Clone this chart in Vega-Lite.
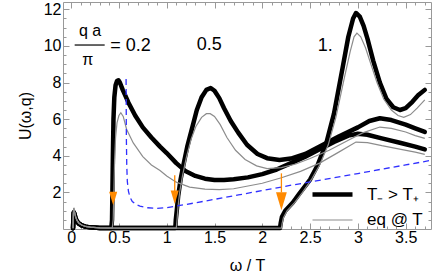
{
  "$schema": "https://vega.github.io/schema/vega-lite/v6.json",
  "width": 368,
  "height": 227,
  "autosize": {"type": "none"},
  "padding": {"left": 63, "top": 2, "right": 10, "bottom": 44},
  "config": {
    "view": {"stroke": "#999999", "strokeWidth": 1},
    "axis": {"grid": false, "domain": false, "tickColor": "#999999", "tickWidth": 1, "labelFont": "Liberation Sans", "labelFontSize": 16, "labelColor": "#000000", "titleFont": "Liberation Sans", "titleFontSize": 16, "titleFontWeight": "normal", "titleColor": "#000000"},
    "legend": {"labelFont": "Liberation Sans", "labelFontSize": 17, "labelColor": "#000000"}
  },
  "datasets": {
    "thick": [
      {"c":"A","k":"T₋ > T₊","x":0.02,"y":0.04},{"c":"A","k":"T₋ > T₊","x":0.024,"y":0.6},{"c":"A","k":"T₋ > T₊","x":0.028,"y":0.9},{"c":"A","k":"T₋ > T₊","x":0.035,"y":0.82},{"c":"A","k":"T₋ > T₊","x":0.045,"y":0.6},{"c":"A","k":"T₋ > T₊","x":0.06,"y":0.42},{"c":"A","k":"T₋ > T₊","x":0.08,"y":0.3},{"c":"A","k":"T₋ > T₊","x":0.11,"y":0.2},{"c":"A","k":"T₋ > T₊","x":0.15,"y":0.13},{"c":"A","k":"T₋ > T₊","x":0.2,"y":0.09},{"c":"A","k":"T₋ > T₊","x":0.3,"y":0.06},
      {"c":"A","k":"T₋ > T₊","x":0.42,"y":0.05},{"c":"A","k":"T₋ > T₊","x":0.428,"y":0.5},{"c":"A","k":"T₋ > T₊","x":0.432,"y":2},{"c":"A","k":"T₋ > T₊","x":0.437,"y":4},{"c":"A","k":"T₋ > T₊","x":0.443,"y":6},{"c":"A","k":"T₋ > T₊","x":0.452,"y":7.2},{"c":"A","k":"T₋ > T₊","x":0.465,"y":7.85},{"c":"A","k":"T₋ > T₊","x":0.48,"y":8.08},{"c":"A","k":"T₋ > T₊","x":0.495,"y":8.12},{"c":"A","k":"T₋ > T₊","x":0.51,"y":8.0},{"c":"A","k":"T₋ > T₊","x":0.54,"y":7.6},{"c":"A","k":"T₋ > T₊","x":0.6,"y":6.9},{"c":"A","k":"T₋ > T₊","x":0.67,"y":6.2},{"c":"A","k":"T₋ > T₊","x":0.75,"y":5.55},{"c":"A","k":"T₋ > T₊","x":0.84,"y":5.0},{"c":"A","k":"T₋ > T₊","x":0.93,"y":4.5},{"c":"A","k":"T₋ > T₊","x":1.0,"y":4.15},{"c":"A","k":"T₋ > T₊","x":1.1,"y":3.6},{"c":"A","k":"T₋ > T₊","x":1.2,"y":3.15},{"c":"A","k":"T₋ > T₊","x":1.3,"y":2.9},{"c":"A","k":"T₋ > T₊","x":1.4,"y":2.75},{"c":"A","k":"T₋ > T₊","x":1.5,"y":2.68},{"c":"A","k":"T₋ > T₊","x":1.6,"y":2.68},{"c":"A","k":"T₋ > T₊","x":1.7,"y":2.72},{"c":"A","k":"T₋ > T₊","x":1.85,"y":2.82},{"c":"A","k":"T₋ > T₊","x":2.0,"y":3.0},{"c":"A","k":"T₋ > T₊","x":2.15,"y":3.25},{"c":"A","k":"T₋ > T₊","x":2.3,"y":3.6},{"c":"A","k":"T₋ > T₊","x":2.45,"y":3.95},{"c":"A","k":"T₋ > T₊","x":2.6,"y":4.35},{"c":"A","k":"T₋ > T₊","x":2.75,"y":4.75},{"c":"A","k":"T₋ > T₊","x":2.9,"y":5.1},{"c":"A","k":"T₋ > T₊","x":3.0,"y":5.2},{"c":"A","k":"T₋ > T₊","x":3.1,"y":5.15},{"c":"A","k":"T₋ > T₊","x":3.25,"y":4.95},{"c":"A","k":"T₋ > T₊","x":3.45,"y":4.7},{"c":"A","k":"T₋ > T₊","x":3.6,"y":4.5},{"c":"A","k":"T₋ > T₊","x":3.7,"y":4.35},
      {"c":"B","k":"T₋ > T₊","x":0.02,"y":0.04},{"c":"B","k":"T₋ > T₊","x":0.024,"y":0.6},{"c":"B","k":"T₋ > T₊","x":0.028,"y":0.9},{"c":"B","k":"T₋ > T₊","x":0.035,"y":0.82},{"c":"B","k":"T₋ > T₊","x":0.045,"y":0.6},{"c":"B","k":"T₋ > T₊","x":0.06,"y":0.42},{"c":"B","k":"T₋ > T₊","x":0.08,"y":0.3},{"c":"B","k":"T₋ > T₊","x":0.11,"y":0.2},{"c":"B","k":"T₋ > T₊","x":0.15,"y":0.13},{"c":"B","k":"T₋ > T₊","x":0.2,"y":0.09},{"c":"B","k":"T₋ > T₊","x":0.3,"y":0.06},
      {"c":"B","k":"T₋ > T₊","x":0.5,"y":0.05},{"c":"B","k":"T₋ > T₊","x":0.8,"y":0.05},{"c":"B","k":"T₋ > T₊","x":1.09,"y":0.05},{"c":"B","k":"T₋ > T₊","x":1.095,"y":0.5},{"c":"B","k":"T₋ > T₊","x":1.105,"y":1.0},{"c":"B","k":"T₋ > T₊","x":1.12,"y":1.8},{"c":"B","k":"T₋ > T₊","x":1.145,"y":2.7},{"c":"B","k":"T₋ > T₊","x":1.175,"y":3.5},{"c":"B","k":"T₋ > T₊","x":1.215,"y":4.5},{"c":"B","k":"T₋ > T₊","x":1.265,"y":5.5},{"c":"B","k":"T₋ > T₊","x":1.315,"y":6.5},{"c":"B","k":"T₋ > T₊","x":1.365,"y":7.2},{"c":"B","k":"T₋ > T₊","x":1.415,"y":7.6},{"c":"B","k":"T₋ > T₊","x":1.46,"y":7.7},{"c":"B","k":"T₋ > T₊","x":1.5,"y":7.55},{"c":"B","k":"T₋ > T₊","x":1.55,"y":7.15},{"c":"B","k":"T₋ > T₊","x":1.6,"y":6.6},{"c":"B","k":"T₋ > T₊","x":1.67,"y":5.9},{"c":"B","k":"T₋ > T₊","x":1.75,"y":5.25},{"c":"B","k":"T₋ > T₊","x":1.84,"y":4.6},{"c":"B","k":"T₋ > T₊","x":1.95,"y":4.1},{"c":"B","k":"T₋ > T₊","x":2.05,"y":3.87},{"c":"B","k":"T₋ > T₊","x":2.18,"y":3.77},{"c":"B","k":"T₋ > T₊","x":2.3,"y":3.85},{"c":"B","k":"T₋ > T₊","x":2.45,"y":4.1},{"c":"B","k":"T₋ > T₊","x":2.6,"y":4.5},{"c":"B","k":"T₋ > T₊","x":2.8,"y":5.05},{"c":"B","k":"T₋ > T₊","x":3.0,"y":5.55},{"c":"B","k":"T₋ > T₊","x":3.12,"y":5.9},{"c":"B","k":"T₋ > T₊","x":3.23,"y":6.05},{"c":"B","k":"T₋ > T₊","x":3.35,"y":5.95},{"c":"B","k":"T₋ > T₊","x":3.5,"y":5.7},{"c":"B","k":"T₋ > T₊","x":3.6,"y":5.5},{"c":"B","k":"T₋ > T₊","x":3.7,"y":5.3},
      {"c":"C","k":"T₋ > T₊","x":0.02,"y":0.04},{"c":"C","k":"T₋ > T₊","x":0.024,"y":0.6},{"c":"C","k":"T₋ > T₊","x":0.028,"y":0.9},{"c":"C","k":"T₋ > T₊","x":0.035,"y":0.82},{"c":"C","k":"T₋ > T₊","x":0.045,"y":0.6},{"c":"C","k":"T₋ > T₊","x":0.06,"y":0.42},{"c":"C","k":"T₋ > T₊","x":0.08,"y":0.3},{"c":"C","k":"T₋ > T₊","x":0.11,"y":0.2},{"c":"C","k":"T₋ > T₊","x":0.15,"y":0.13},{"c":"C","k":"T₋ > T₊","x":0.2,"y":0.09},{"c":"C","k":"T₋ > T₊","x":0.3,"y":0.06},
      {"c":"C","k":"T₋ > T₊","x":0.6,"y":0.05},{"c":"C","k":"T₋ > T₊","x":1.2,"y":0.05},{"c":"C","k":"T₋ > T₊","x":1.8,"y":0.05},{"c":"C","k":"T₋ > T₊","x":2.185,"y":0.05},{"c":"C","k":"T₋ > T₊","x":2.192,"y":0.3},{"c":"C","k":"T₋ > T₊","x":2.205,"y":0.65},{"c":"C","k":"T₋ > T₊","x":2.24,"y":1.0},{"c":"C","k":"T₋ > T₊","x":2.32,"y":1.45},{"c":"C","k":"T₋ > T₊","x":2.39,"y":1.95},{"c":"C","k":"T₋ > T₊","x":2.5,"y":2.7},{"c":"C","k":"T₋ > T₊","x":2.58,"y":3.5},{"c":"C","k":"T₋ > T₊","x":2.67,"y":4.7},{"c":"C","k":"T₋ > T₊","x":2.75,"y":6.3},{"c":"C","k":"T₋ > T₊","x":2.84,"y":8.8},{"c":"C","k":"T₋ > T₊","x":2.9,"y":10.5},{"c":"C","k":"T₋ > T₊","x":2.95,"y":11.5},{"c":"C","k":"T₋ > T₊","x":2.98,"y":11.8},{"c":"C","k":"T₋ > T₊","x":3.02,"y":11.6},{"c":"C","k":"T₋ > T₊","x":3.06,"y":11.1},{"c":"C","k":"T₋ > T₊","x":3.1,"y":10.4},{"c":"C","k":"T₋ > T₊","x":3.16,"y":9.2},{"c":"C","k":"T₋ > T₊","x":3.23,"y":8.0},{"c":"C","k":"T₋ > T₊","x":3.3,"y":7.1},{"c":"C","k":"T₋ > T₊","x":3.37,"y":6.65},{"c":"C","k":"T₋ > T₊","x":3.44,"y":6.5},{"c":"C","k":"T₋ > T₊","x":3.5,"y":6.6},{"c":"C","k":"T₋ > T₊","x":3.57,"y":6.95},{"c":"C","k":"T₋ > T₊","x":3.63,"y":7.3},{"c":"C","k":"T₋ > T₊","x":3.7,"y":7.6}
    ],
    "thin": [
      {"c":"gA","k":"eq @ T","x":0.02,"y":0.04},{"c":"gA","k":"eq @ T","x":0.023,"y":0.8},{"c":"gA","k":"eq @ T","x":0.027,"y":1.15},{"c":"gA","k":"eq @ T","x":0.033,"y":1.0},{"c":"gA","k":"eq @ T","x":0.045,"y":0.7},{"c":"gA","k":"eq @ T","x":0.06,"y":0.48},{"c":"gA","k":"eq @ T","x":0.08,"y":0.33},{"c":"gA","k":"eq @ T","x":0.11,"y":0.22},{"c":"gA","k":"eq @ T","x":0.15,"y":0.14},{"c":"gA","k":"eq @ T","x":0.2,"y":0.1},{"c":"gA","k":"eq @ T","x":0.3,"y":0.06},
      {"c":"gA","k":"eq @ T","x":0.43,"y":0.05},{"c":"gA","k":"eq @ T","x":0.44,"y":0.5},{"c":"gA","k":"eq @ T","x":0.447,"y":2},{"c":"gA","k":"eq @ T","x":0.455,"y":3.8},{"c":"gA","k":"eq @ T","x":0.465,"y":5.0},{"c":"gA","k":"eq @ T","x":0.48,"y":5.8},{"c":"gA","k":"eq @ T","x":0.5,"y":6.2},{"c":"gA","k":"eq @ T","x":0.52,"y":6.35},{"c":"gA","k":"eq @ T","x":0.545,"y":6.15},{"c":"gA","k":"eq @ T","x":0.58,"y":5.45},{"c":"gA","k":"eq @ T","x":0.65,"y":4.7},{"c":"gA","k":"eq @ T","x":0.75,"y":3.95},{"c":"gA","k":"eq @ T","x":0.84,"y":3.5},{"c":"gA","k":"eq @ T","x":0.93,"y":3.2},{"c":"gA","k":"eq @ T","x":1.0,"y":2.9},{"c":"gA","k":"eq @ T","x":1.1,"y":2.56},{"c":"gA","k":"eq @ T","x":1.24,"y":2.29},{"c":"gA","k":"eq @ T","x":1.4,"y":2.18},{"c":"gA","k":"eq @ T","x":1.55,"y":2.15},{"c":"gA","k":"eq @ T","x":1.7,"y":2.2},{"c":"gA","k":"eq @ T","x":1.85,"y":2.35},{"c":"gA","k":"eq @ T","x":2.0,"y":2.5},{"c":"gA","k":"eq @ T","x":2.2,"y":2.8},{"c":"gA","k":"eq @ T","x":2.4,"y":3.15},{"c":"gA","k":"eq @ T","x":2.6,"y":3.6},{"c":"gA","k":"eq @ T","x":2.8,"y":4.2},{"c":"gA","k":"eq @ T","x":2.98,"y":4.75},{"c":"gA","k":"eq @ T","x":3.1,"y":4.72},{"c":"gA","k":"eq @ T","x":3.25,"y":4.55},{"c":"gA","k":"eq @ T","x":3.45,"y":4.35},{"c":"gA","k":"eq @ T","x":3.6,"y":4.2},{"c":"gA","k":"eq @ T","x":3.7,"y":4.08},
      {"c":"gB","k":"eq @ T","x":0.02,"y":0.04},{"c":"gB","k":"eq @ T","x":0.023,"y":0.8},{"c":"gB","k":"eq @ T","x":0.027,"y":1.15},{"c":"gB","k":"eq @ T","x":0.033,"y":1.0},{"c":"gB","k":"eq @ T","x":0.045,"y":0.7},{"c":"gB","k":"eq @ T","x":0.06,"y":0.48},{"c":"gB","k":"eq @ T","x":0.08,"y":0.33},{"c":"gB","k":"eq @ T","x":0.11,"y":0.22},{"c":"gB","k":"eq @ T","x":0.15,"y":0.14},{"c":"gB","k":"eq @ T","x":0.2,"y":0.1},{"c":"gB","k":"eq @ T","x":0.3,"y":0.06},
      {"c":"gB","k":"eq @ T","x":0.5,"y":0.05},{"c":"gB","k":"eq @ T","x":0.8,"y":0.05},{"c":"gB","k":"eq @ T","x":1.1,"y":0.05},{"c":"gB","k":"eq @ T","x":1.108,"y":0.5},{"c":"gB","k":"eq @ T","x":1.118,"y":1.2},{"c":"gB","k":"eq @ T","x":1.135,"y":2.0},{"c":"gB","k":"eq @ T","x":1.165,"y":2.9},{"c":"gB","k":"eq @ T","x":1.205,"y":3.9},{"c":"gB","k":"eq @ T","x":1.255,"y":4.9},{"c":"gB","k":"eq @ T","x":1.305,"y":5.6},{"c":"gB","k":"eq @ T","x":1.365,"y":6.1},{"c":"gB","k":"eq @ T","x":1.415,"y":6.3},{"c":"gB","k":"eq @ T","x":1.455,"y":6.3},{"c":"gB","k":"eq @ T","x":1.5,"y":6.15},{"c":"gB","k":"eq @ T","x":1.56,"y":5.7},{"c":"gB","k":"eq @ T","x":1.63,"y":5.0},{"c":"gB","k":"eq @ T","x":1.72,"y":4.3},{"c":"gB","k":"eq @ T","x":1.82,"y":3.8},{"c":"gB","k":"eq @ T","x":1.94,"y":3.45},{"c":"gB","k":"eq @ T","x":2.05,"y":3.3},{"c":"gB","k":"eq @ T","x":2.2,"y":3.35},{"c":"gB","k":"eq @ T","x":2.35,"y":3.55},{"c":"gB","k":"eq @ T","x":2.5,"y":3.85},{"c":"gB","k":"eq @ T","x":2.7,"y":4.3},{"c":"gB","k":"eq @ T","x":2.9,"y":4.85},{"c":"gB","k":"eq @ T","x":3.05,"y":5.25},{"c":"gB","k":"eq @ T","x":3.23,"y":5.57},{"c":"gB","k":"eq @ T","x":3.35,"y":5.5},{"c":"gB","k":"eq @ T","x":3.5,"y":5.3},{"c":"gB","k":"eq @ T","x":3.6,"y":5.1},{"c":"gB","k":"eq @ T","x":3.7,"y":4.95},
      {"c":"gC","k":"eq @ T","x":0.02,"y":0.04},{"c":"gC","k":"eq @ T","x":0.023,"y":0.8},{"c":"gC","k":"eq @ T","x":0.027,"y":1.15},{"c":"gC","k":"eq @ T","x":0.033,"y":1.0},{"c":"gC","k":"eq @ T","x":0.045,"y":0.7},{"c":"gC","k":"eq @ T","x":0.06,"y":0.48},{"c":"gC","k":"eq @ T","x":0.08,"y":0.33},{"c":"gC","k":"eq @ T","x":0.11,"y":0.22},{"c":"gC","k":"eq @ T","x":0.15,"y":0.14},{"c":"gC","k":"eq @ T","x":0.2,"y":0.1},{"c":"gC","k":"eq @ T","x":0.3,"y":0.06},
      {"c":"gC","k":"eq @ T","x":0.6,"y":0.05},{"c":"gC","k":"eq @ T","x":1.2,"y":0.05},{"c":"gC","k":"eq @ T","x":1.8,"y":0.05},{"c":"gC","k":"eq @ T","x":2.2,"y":0.05},{"c":"gC","k":"eq @ T","x":2.207,"y":0.3},{"c":"gC","k":"eq @ T","x":2.22,"y":0.6},{"c":"gC","k":"eq @ T","x":2.26,"y":1.0},{"c":"gC","k":"eq @ T","x":2.34,"y":1.45},{"c":"gC","k":"eq @ T","x":2.42,"y":2.0},{"c":"gC","k":"eq @ T","x":2.52,"y":2.75},{"c":"gC","k":"eq @ T","x":2.6,"y":3.5},{"c":"gC","k":"eq @ T","x":2.69,"y":4.6},{"c":"gC","k":"eq @ T","x":2.77,"y":6.1},{"c":"gC","k":"eq @ T","x":2.86,"y":8.3},{"c":"gC","k":"eq @ T","x":2.92,"y":9.7},{"c":"gC","k":"eq @ T","x":2.96,"y":10.5},{"c":"gC","k":"eq @ T","x":2.99,"y":10.7},{"c":"gC","k":"eq @ T","x":3.03,"y":10.5},{"c":"gC","k":"eq @ T","x":3.08,"y":9.9},{"c":"gC","k":"eq @ T","x":3.13,"y":9.1},{"c":"gC","k":"eq @ T","x":3.2,"y":8.0},{"c":"gC","k":"eq @ T","x":3.27,"y":7.1},{"c":"gC","k":"eq @ T","x":3.35,"y":6.5},{"c":"gC","k":"eq @ T","x":3.42,"y":6.2},{"c":"gC","k":"eq @ T","x":3.48,"y":6.1},{"c":"gC","k":"eq @ T","x":3.55,"y":6.25},{"c":"gC","k":"eq @ T","x":3.62,"y":6.6},{"c":"gC","k":"eq @ T","x":3.7,"y":7.05}
    ],
    "blue": [
      {"x":0.575,"y":8.2},{"x":0.578,"y":5.0},{"x":0.582,"y":3.5},{"x":0.588,"y":2.6},{"x":0.6,"y":2.05},{"x":0.615,"y":1.75},{"x":0.64,"y":1.5},{"x":0.68,"y":1.33},{"x":0.72,"y":1.25},{"x":0.8,"y":1.16},{"x":0.9,"y":1.13},{"x":1.0,"y":1.16},{"x":1.1,"y":1.25},{"x":1.3,"y":1.43},{"x":1.5,"y":1.62},{"x":1.75,"y":1.86},{"x":2.0,"y":2.1},{"x":2.29,"y":2.38},{"x":2.5,"y":2.57},{"x":2.75,"y":2.8},{"x":3.0,"y":3.03},{"x":3.25,"y":3.27},{"x":3.5,"y":3.5},{"x":3.765,"y":3.75}
    ],
    "arrows": [
      {"a":1,"x":0.44,"ys":2.05,"ye":2.05,"yc":1.67},
      {"a":2,"x":1.084,"ys":2.93,"ye":2.05,"yc":1.73},
      {"a":3,"x":2.2,"ys":3.04,"ye":2.0,"yc":1.51}
    ],
    "small": [
      {"x":0.199,"y":10.8,"t":"q a"},
      {"x":0.173,"y":9.25,"t":"π"}
    ],
    "big": [
      {"x":0.41,"y":10.0,"t":"= 0.2"},
      {"x":1.314,"y":10.05,"t":"0.5"},
      {"x":2.58,"y":10.0,"t":"1."}
    ],
    "bar": [
      {"x":0.037,"x2":0.351,"y":10.05}
    ]
  },
  "resolve": {"axis": {"x": "independent", "y": "independent"}},
  "layer": [
    {
      "data": {"name": "thick"},
      "mark": {"type": "line", "strokeCap": "round", "strokeJoin": "round"},
      "encoding": {
        "x": {"field": "x", "type": "quantitative", "scale": {"domain": [-0.085, 3.765], "nice": false, "zero": false},
              "axis": {"orient": "bottom", "values": [0,0.5,1,1.5,2,2.5,3,3.5], "tickSize": -6, "labelPadding": 6, "labelExpr": "'' + datum.value", "title": "ω / T", "titlePadding": 12}},
        "y": {"field": "y", "type": "quantitative", "scale": {"domain": [0, 12.4], "nice": false, "zero": false},
              "axis": {"orient": "left", "values": [2,4,6,8,10,12], "tickSize": -6, "labelPadding": 8, "title": "U(ω,q)", "titlePadding": 10}},
        "detail": {"field": "c"},
        "stroke": {"field": "k", "type": "nominal", "title": null, "scale": {"domain": ["T₋ > T₊", "eq @ T"], "range": ["#000000", "#8c8c8c"]},
                   "legend": {"orient": "none", "legendX": 257, "legendY": 180, "symbolType": "M-2,0L2,0", "symbolSize": 400, "labelOffset": 22, "rowPadding": 5, "padding": 0}},
        "strokeWidth": {"field": "k", "type": "nominal", "title": null, "scale": {"domain": ["T₋ > T₊", "eq @ T"], "range": [4.5, 1.2]},
                   "legend": {"orient": "none", "legendX": 257, "legendY": 180, "symbolType": "M-2,0L2,0", "symbolSize": 400, "labelOffset": 22, "rowPadding": 5, "padding": 0}}
      }
    },
    {
      "data": {"name": "thin"},
      "mark": {"type": "line"},
      "encoding": {
        "x": {"field": "x", "type": "quantitative", "scale": {"domain": [-0.085, 3.765], "nice": false, "zero": false},
              "axis": {"orient": "top", "values": [0,0.5,1,1.5,2,2.5,3,3.5], "tickSize": -6, "labels": false, "title": null}},
        "y": {"field": "y", "type": "quantitative", "scale": {"domain": [0, 12.4], "nice": false, "zero": false},
              "axis": {"orient": "right", "values": [2,4,6,8,10,12], "tickSize": -6, "labels": false, "title": null}},
        "detail": {"field": "c"},
        "stroke": {"field": "k", "type": "nominal", "title": null, "scale": {"domain": ["T₋ > T₊", "eq @ T"], "range": ["#000000", "#8c8c8c"]},
                   "legend": {"orient": "none", "legendX": 257, "legendY": 180, "symbolType": "M-2,0L2,0", "symbolSize": 400, "labelOffset": 22, "rowPadding": 5, "padding": 0}},
        "strokeWidth": {"field": "k", "type": "nominal", "title": null, "scale": {"domain": ["T₋ > T₊", "eq @ T"], "range": [4.5, 1.2]},
                   "legend": {"orient": "none", "legendX": 257, "legendY": 180, "symbolType": "M-2,0L2,0", "symbolSize": 400, "labelOffset": 22, "rowPadding": 5, "padding": 0}}
      }
    },
    {
      "data": {"name": "blue"},
      "mark": {"type": "line", "color": "#3030ff", "strokeWidth": 1.3, "strokeDash": [6, 4]},
      "encoding": {
        "x": {"field": "x", "type": "quantitative", "scale": {"domain": [-0.085, 3.765], "nice": false, "zero": false},
              "axis": {"orient": "bottom", "values": [0,0.1,0.2,0.3,0.4,0.5,0.6,0.7,0.8,0.9,1,1.1,1.2,1.3,1.4,1.5,1.6,1.7,1.8,1.9,2,2.1,2.2,2.3,2.4,2.5,2.6,2.7,2.8,2.9,3,3.1,3.2,3.3,3.4,3.5,3.6,3.7], "tickSize": -3, "labels": false, "title": null}},
        "y": {"field": "y", "type": "quantitative", "scale": {"domain": [0, 12.4], "nice": false, "zero": false},
              "axis": {"orient": "left", "values": [0.5,1,1.5,2,2.5,3,3.5,4,4.5,5,5.5,6,6.5,7,7.5,8,8.5,9,9.5,10,10.5,11,11.5,12], "tickSize": -3, "labels": false, "title": null}}
      }
    },
    {
      "data": {"name": "arrows"},
      "mark": {"type": "rule", "color": "#ff8a00", "strokeWidth": 1.3},
      "encoding": {
        "x": {"field": "x", "type": "quantitative", "scale": {"domain": [-0.085, 3.765], "nice": false, "zero": false},
              "axis": {"orient": "top", "values": [0,0.1,0.2,0.3,0.4,0.5,0.6,0.7,0.8,0.9,1,1.1,1.2,1.3,1.4,1.5,1.6,1.7,1.8,1.9,2,2.1,2.2,2.3,2.4,2.5,2.6,2.7,2.8,2.9,3,3.1,3.2,3.3,3.4,3.5,3.6,3.7], "tickSize": -3, "labels": false, "title": null}},
        "y": {"field": "ys", "type": "quantitative", "scale": {"domain": [0, 12.4], "nice": false, "zero": false},
              "axis": {"orient": "right", "values": [0.5,1,1.5,2,2.5,3,3.5,4,4.5,5,5.5,6,6.5,7,7.5,8,8.5,9,9.5,10,10.5,11,11.5,12], "tickSize": -3, "labels": false, "title": null}},
        "y2": {"field": "ye"}
      }
    },
    {
      "data": {"name": "arrows"},
      "transform": [{"filter": "datum.a < 3"}],
      "mark": {"type": "point", "filled": true, "opacity": 1, "color": "#ff8a00", "shape": "M-0.6,-1L0.6,-1L0,1Z", "size": 182},
      "encoding": {
        "x": {"field": "x", "type": "quantitative", "axis": null},
        "y": {"field": "yc", "type": "quantitative", "axis": null}
      }
    },
    {
      "data": {"name": "arrows"},
      "transform": [{"filter": "datum.a == 3"}],
      "mark": {"type": "point", "filled": true, "opacity": 1, "color": "#ff8a00", "shape": "M-0.6,-1L0.6,-1L0,1Z", "size": 324},
      "encoding": {
        "x": {"field": "x", "type": "quantitative", "axis": null},
        "y": {"field": "yc", "type": "quantitative", "axis": null}
      }
    },
    {
      "data": {"name": "small"},
      "mark": {"type": "text", "font": "Liberation Sans", "fontSize": 16, "align": "center", "baseline": "middle", "color": "#000000"},
      "encoding": {
        "x": {"field": "x", "type": "quantitative", "axis": null},
        "y": {"field": "y", "type": "quantitative", "axis": null},
        "text": {"field": "t"}
      }
    },
    {
      "data": {"name": "big"},
      "mark": {"type": "text", "font": "Liberation Sans", "fontSize": 18, "align": "left", "baseline": "middle", "color": "#000000"},
      "encoding": {
        "x": {"field": "x", "type": "quantitative", "axis": null},
        "y": {"field": "y", "type": "quantitative", "axis": null},
        "text": {"field": "t"}
      }
    },
    {
      "data": {"name": "bar"},
      "mark": {"type": "rule", "color": "#000000", "strokeWidth": 1.2},
      "encoding": {
        "x": {"field": "x", "type": "quantitative", "axis": null},
        "x2": {"field": "x2"},
        "y": {"field": "y", "type": "quantitative", "axis": null}
      }
    }
  ]
}
